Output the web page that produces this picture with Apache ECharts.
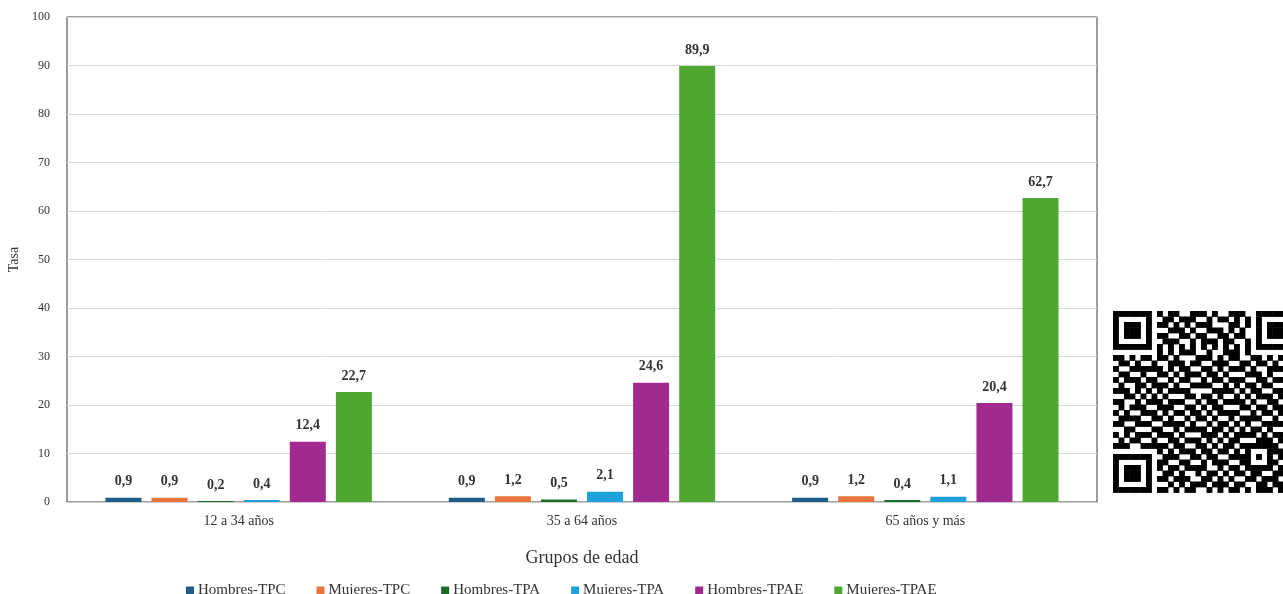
<!DOCTYPE html>
<html>
<head>
<meta charset="utf-8">
<script src="https://cdn.jsdelivr.net/npm/echarts@6/dist/echarts.min.js"></script>
<style>
  html, body { margin: 0; padding: 0; background: #ffffff; }
  #chart { width: 1283px; height: 594px; }
</style>
</head>
<body>
<div id="chart"></div>
<script>
// Age groups and rates per series
const categories = ['12 a 34 años', '35 a 64 años', '65 años y más'];
const seriesNames = ['Hombres-TPC', 'Mujeres-TPC', 'Hombres-TPA', 'Mujeres-TPA', 'Hombres-TPAE', 'Mujeres-TPAE'];
const hombresTPC = [0.9, 0.9, 0.9];
const mujeresTPC = [0.9, 1.2, 1.2];
const hombresTPA = [0.2, 0.5, 0.4];
const mujeresTPA = [0.4, 2.1, 1.1];
const hombresTPAE = [12.4, 24.6, 20.4];
const mujeresTPAE = [22.7, 89.9, 62.7];
const seriesColors = ['#1f5c87', '#e8743b', '#1d6b2c', '#1ea0db', '#a12a8f', '#4ea72e'];

// QR code modules (33 x 33), '1' = dark
const qrRows = [
  '000000001011001110100111010000000',
  '000000000110111001011010100000000',
  '000000001101010111000110110000000',
  '000000000011101001110101000000000',
  '000000001100110110011011010000000',
  '000000000111001011101100100000000',
  '000000000000000000000000000000000',
  '000000001010111001001110100000000',
  '110101101101000111010110011010110',
  '011010010011101100111001101101011',
  '100111111010110011010111010011100',
  '011001001101011101101000111010011',
  '101110110010110010110111001101101',
  '010011011101001111001010110110010',
  '111010101011110000111101011001110',
  '001101010100011011010010101110101',
  '110010111011100101101111010011011',
  '010111001110011010110001101101100',
  '101001110101101101011110010110111',
  '011110011010010110100101111001010',
  '110011100111101001011010100111101',
  '001100011001011110110101011010011',
  '101011101110100011101011110101100',
  '010110010011011101010110001110110',
  '111001111101100110101101010011011',
  '000000001010111011011010110101101',
  '000000000111001101100111011100110',
  '000000001100110010111001101011011',
  '000000001011011110010110110110101',
  '000000000110100101101011011001110',
  '000000001101110011010100110111011',
  '000000000010101110111011001101100',
  '000000001101011001010110101110111'
];

const QN = 33;
function buildQr() {
  const m = [];
  for (let r = 0; r < QN; r++) {
    const row = (qrRows[r] || '').padEnd(QN, '0');
    m.push(row.split('').slice(0, QN).map(c => c === '1' ? 1 : 0));
  }
  const finder = (r0, c0) => {
    for (let r = -1; r <= 7; r++) {
      for (let c = -1; c <= 7; c++) {
        const rr = r0 + r, cc = c0 + c;
        if (rr < 0 || cc < 0 || rr >= QN || cc >= QN) continue;
        let v = 0;
        if (r >= 0 && r <= 6 && c >= 0 && c <= 6) {
          const edge = r === 0 || r === 6 || c === 0 || c === 6;
          const core = r >= 2 && r <= 4 && c >= 2 && c <= 4;
          v = (edge || core) ? 1 : 0;
        }
        m[rr][cc] = v;
      }
    }
  };
  finder(0, 0); finder(0, QN - 7); finder(QN - 7, 0);
  for (let i = 8; i < QN - 8; i++) { m[6][i] = i % 2 === 0 ? 1 : 0; m[i][6] = i % 2 === 0 ? 1 : 0; }
  for (let r = -2; r <= 2; r++) {
    for (let c = -2; c <= 2; c++) {
      const ring = Math.max(Math.abs(r), Math.abs(c));
      m[26 + r][26 + c] = (ring === 2 || ring === 0) ? 1 : 0;
    }
  }
  m[QN - 8][8] = 1;
  const cells = [];
  for (let r = 0; r < QN; r++) for (let c = 0; c < QN; c++) if (m[r][c]) cells.push([c, r]);
  return cells;
}
const qrCells = buildQr();

const serif = '"Liberation Serif", "DejaVu Serif", serif';
const values = [hombresTPC, mujeresTPC, hombresTPA, mujeresTPA, hombresTPAE, mujeresTPAE];

const barSeries = seriesNames.map((name, i) => ({
  name: name,
  type: 'bar',
  xAxisIndex: 0,
  yAxisIndex: 0,
  data: values[i],
  barWidth: 36,
  barGap: '28%',
  itemStyle: { color: seriesColors[i] },
  label: {
    show: true,
    position: 'top',
    distance: 9,
    fontFamily: serif,
    fontSize: 14,
    fontWeight: 'bold',
    color: '#333333',
    formatter: p => p.value.toFixed(1).replace('.', ',')
  }
}));

const chart = echarts.init(document.getElementById('chart'), null, { renderer: 'canvas' });
chart.setOption({
  animation: false,
  backgroundColor: '#ffffff',
  textStyle: { fontFamily: serif },
  legend: {
    data: seriesNames,
    left: 181,
    top: 578,
    itemWidth: 8,
    itemHeight: 8,
    itemGap: 31,
    icon: 'rect',
    textStyle: { fontFamily: serif, fontSize: 15, color: '#333333', padding: [0, 0, 0, -1] }
  },
  grid: [
    { left: 67, right: 186, top: 17, bottom: 92, show: true, borderColor: '#3a3a3a', borderWidth: 1, backgroundColor: 'transparent', containLabel: false, outerBoundsMode: 'none' },
    { left: 1113, top: 311, width: 181.5, height: 181.5, containLabel: false, outerBoundsMode: 'none' }
  ],
  xAxis: [
    {
      type: 'category',
      gridIndex: 0,
      data: categories,
      axisTick: { show: false },
      axisLine: { show: true, lineStyle: { color: '#d0d0d0', width: 1 } },
      axisLabel: { fontFamily: serif, fontSize: 14, color: '#333333', margin: 12 },
      name: 'Grupos de edad',
      nameLocation: 'middle',
      nameGap: 47,
      nameTextStyle: { fontFamily: serif, fontSize: 18, color: '#333333' }
    },
    { type: 'value', gridIndex: 1, min: 0, max: QN, show: false }
  ],
  yAxis: [
    {
      type: 'value',
      gridIndex: 0,
      min: 0,
      max: 100,
      interval: 10,
      axisLine: { show: false },
      axisTick: { show: false },
      axisLabel: { fontFamily: serif, fontSize: 12, color: '#333333', margin: 17 },
      splitLine: { lineStyle: { color: '#d9d9d9', width: 1 } },
      name: 'Tasa',
      nameLocation: 'middle',
      nameRotate: 90,
      nameGap: 45,
      nameTextStyle: { fontFamily: serif, fontSize: 14, color: '#333333' }
    },
    { type: 'value', gridIndex: 1, min: 0, max: QN, inverse: true, show: false }
  ],
  series: barSeries.concat([{
    name: 'qr',
    type: 'custom',
    xAxisIndex: 1,
    yAxisIndex: 1,
    silent: true,
    data: qrCells,
    renderItem: function (params, api) {
      const c = api.value(0), r = api.value(1);
      const p0 = api.coord([c, r]);
      const p1 = api.coord([c + 1, r + 1]);
      return {
        type: 'rect',
        shape: { x: p0[0], y: p0[1], width: p1[0] - p0[0] + 0.4, height: p1[1] - p0[1] + 0.4 },
        style: { fill: '#000000' }
      };
    }
  }])
});
</script>
</body>
</html>
